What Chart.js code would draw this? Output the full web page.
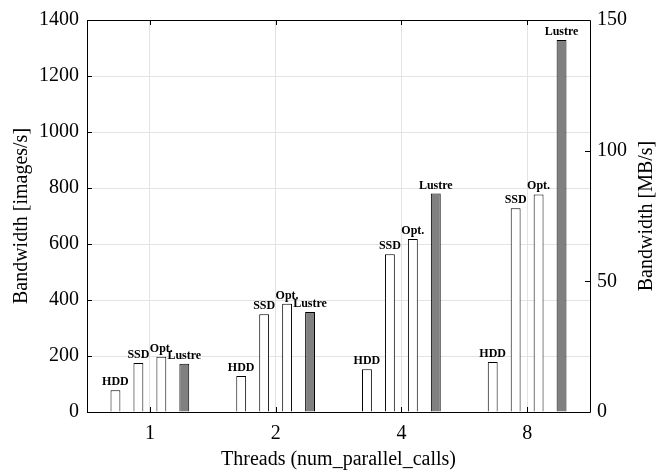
<!DOCTYPE html>
<html>
<head>
<meta charset="utf-8">
<script src="https://cdn.jsdelivr.net/npm/chart.js@4"></script>
<style>
  body { margin: 0; background: #fff; }
</style>
</head>
<body>
<canvas id="grafico" width="671" height="472"></canvas>
<script>
// dados
const threads = ['1', '2', '4', '8']
const hdd = [78, 129, 153, 179]
const ssd = [175, 349, 563, 728]
const opt = [197, 387, 618, 777]
const lustre = [172, 357, 780, 1329]
const nomes = ['HDD', 'SSD', 'Opt.', 'Lustre']
const cores = ['#ffffff', '#ffffff', '#ffffff', '#808080']
const ticksEsq = [0, 200, 400, 600, 800, 1000, 1200, 1400]
const ticksDir = [0, 50, 100, 150]

const fonte = 'Liberation Serif'

// rótulos em cima de cada barra
const rotulos = {
  id: 'rotulos',
  afterDatasetsDraw(chart) {
    const ctx = chart.ctx
    ctx.save()
    ctx.font = 'bold 12px "' + fonte + '"'
    ctx.fillStyle = '#000'
    ctx.textAlign = 'center'
    ctx.textBaseline = 'alphabetic'
    chart.data.datasets.forEach((ds, i) => {
      chart.getDatasetMeta(i).data.forEach((barra) => {
        ctx.fillText(ds.label, barra.x, barra.y - 5)
      })
    })
    ctx.restore()
  }
}

// caixa em volta e marcas para dentro (estilo matlab) + título do eixo direito
const caixa = {
  id: 'caixa',
  afterDraw(chart) {
    const ctx = chart.ctx
    const a = chart.chartArea
    const x = chart.scales.x
    const y = chart.scales.y
    const y2 = chart.scales.y2
    ctx.save()
    ctx.strokeStyle = '#000'
    ctx.lineWidth = 1
    ctx.beginPath()
    ctx.rect(Math.round(a.left) + 0.5, Math.round(a.top) + 0.5, Math.round(a.right - a.left), Math.round(a.bottom - a.top))
    ctx.stroke()

    ctx.beginPath()
    ticksEsq.forEach((v) => {
      const py = Math.round(y.getPixelForValue(v)) + 0.5
      ctx.moveTo(a.left, py)
      ctx.lineTo(a.left + 5, py)
    })
    ticksDir.forEach((v) => {
      const py = Math.round(y2.getPixelForValue(v)) + 0.5
      ctx.moveTo(a.right, py)
      ctx.lineTo(a.right - 5, py)
    })
    threads.forEach((t, i) => {
      const px = Math.round(x.getPixelForValue(i)) + 0.5
      ctx.moveTo(px, a.bottom)
      ctx.lineTo(px, a.bottom - 5)
      ctx.moveTo(px, a.top)
      ctx.lineTo(px, a.top + 5)
    })
    ctx.stroke()

    ctx.font = '20px "' + fonte + '"'
    ctx.fillStyle = '#000'
    ctx.textAlign = 'center'
    ctx.textBaseline = 'middle'
    ctx.translate(647, (a.top + a.bottom) / 2)
    ctx.rotate(-Math.PI / 2)
    ctx.fillText('Bandwidth [MB/s]', 0, 0)
    ctx.restore()
  }
}

const series = [hdd, ssd, opt, lustre]

const grafico = new Chart(document.getElementById('grafico'), {
  type: 'bar',
  data: {
    labels: threads,
    datasets: series.map((dados, i) => ({
      label: nomes[i],
      data: dados,
      backgroundColor: cores[i],
      borderColor: '#000',
      borderWidth: 1,
      categoryPercentage: 0.73,
      barPercentage: 0.43,
      yAxisID: 'y'
    }))
  },
  options: {
    responsive: false,
    animation: false,
    layout: { padding: { top: 15, left: 0, right: 0, bottom: 0 } },
    plugins: {
      legend: { display: false },
      tooltip: { enabled: false }
    },
    scales: {
      x: {
        grid: { color: '#e3e3e3', offset: false, drawTicks: false },
        border: { display: false },
        ticks: { color: '#000', font: { family: fonte, size: 20 }, padding: 10 },
        title: { display: true, text: 'Threads (num_parallel_calls)', color: '#000', font: { family: fonte, size: 20 }, padding: { top: 0, bottom: 0 } },
        afterFit: (s) => { s.height = 60 }
      },
      y: {
        min: 0,
        max: 1400,
        grid: { color: '#e3e3e3', drawTicks: false },
        border: { display: false },
        ticks: { stepSize: 200, color: '#000', font: { family: fonte, size: 20 }, padding: 8, callback: (v) => v },
        title: { display: true, text: 'Bandwidth [images/s]', color: '#000', font: { family: fonte, size: 20 }, padding: { top: 10, bottom: 0 } },
        afterFit: (s) => { s.width = 87 }
      },
      y2: {
        position: 'right',
        min: 0,
        max: 150,
        grid: { drawOnChartArea: false, drawTicks: false },
        border: { display: false },
        ticks: { stepSize: 50, color: '#000', font: { family: fonte, size: 20 }, padding: 7, callback: (v) => v },
        afterFit: (s) => { s.width = 81 }
      }
    }
  },
  plugins: [rotulos, caixa]
})
</script>
</body>
</html>
